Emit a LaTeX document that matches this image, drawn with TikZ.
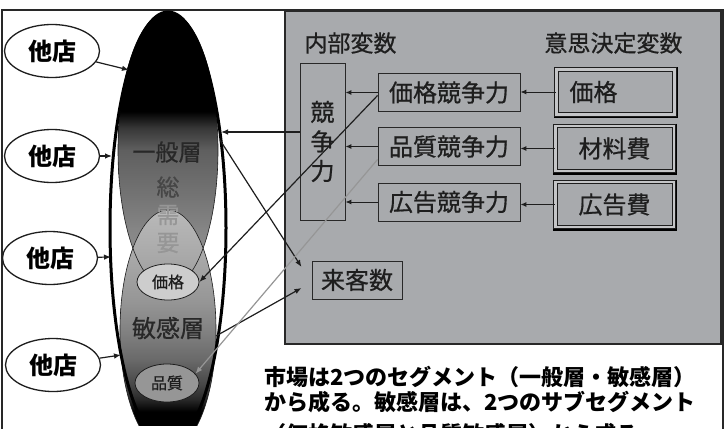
\documentclass[tikz,border=0pt]{standalone}
\usepackage{fontspec}
\setmainfont{Noto Sans CJK JP}
\newfontfamily\jpm{Noto Sans CJK JP}[FakeBold=0.7]
\usetikzlibrary{shapes.geometric,arrows.meta,calc}
\definecolor{bg}{RGB}{168,170,173}
\definecolor{gA}{RGB}{40,40,40}
\definecolor{gB}{RGB}{55,55,55}
\definecolor{gC}{RGB}{95,95,95}
\definecolor{gD}{RGB}{115,115,115}
\definecolor{gE}{RGB}{135,135,135}
\definecolor{gF}{RGB}{150,150,150}
\definecolor{gG}{RGB}{170,170,170}
\definecolor{gH}{RGB}{185,185,185}
\definecolor{gI}{RGB}{205,205,205}
\definecolor{gJ}{RGB}{130,130,130}
\definecolor{gK}{RGB}{105,105,105}
\definecolor{gL}{RGB}{70,70,70}
\definecolor{gM}{RGB}{30,30,30}
\definecolor{gap}{RGB}{196,197,199}
\newcommand\fsz[1]{\fontsize{#1}{#1}\selectfont}
\pgfdeclareverticalshading{upshade}{100bp}{color(0bp)=(gF); color(25bp)=(gF); color(35bp)=(gE); color(42bp)=(gD); color(50bp)=(gC); color(54bp)=(gB); color(57bp)=(black); color(100bp)=(black)}
\pgfdeclareverticalshading{lowshade}{100bp}{color(0bp)=(black); color(33bp)=(black); color(35.5bp)=(gA); color(38.5bp)=(gL); color(43.75bp)=(gK); color(50bp)=(gJ); color(56bp)=(gF); color(66bp)=(gG); color(75bp)=(gH); color(100bp)=(gH)}
\begin{document}
\begin{tikzpicture}[x=1pt,y=-1pt,
  arr/.style={-{Latex[length=7pt,width=5.5pt]}, line width=1.2pt, draw=gM},
  sarr/.style={-{Latex[length=6pt,width=5pt]}, line width=1pt, draw=gM},
  tten/.style={ellipse, draw=gM, line width=1.3pt, fill=white, minimum width=95pt, minimum height=53pt, inner sep=0pt, font=\bfseries\fsz{24}},
  cbox/.style={rectangle, draw=gA, line width=0.9pt, minimum width=142pt, minimum height=38pt, inner sep=0pt, font=\jpm\fsz{24}, text=gM},
  dec/.style={rectangle, draw=gM, double=gap, double distance=2.5pt, line width=1pt, fill=bg, minimum width=118.5pt, minimum height=45pt, inner sep=0pt, font=\jpm\fsz{24}, text=gM},
  lbl/.style={inner sep=0pt, font=\jpm\fsz{23}, text=gM},
  etxt/.style={inner sep=0pt, font=\jpm\fsz{23}},
  btxt/.style={inner sep=0pt, anchor=west, font=\bfseries\fsz{22}, text=black}
]
\useasboundingbox (0,0) rectangle (727,428);
\fill[white] (0,0) rectangle (727,428);
% right panel
\draw[line width=1.2pt, draw=gA, fill=bg] (285,11) rectangle (721,344);
% outer frame
\draw[line width=1.2pt, draw=gA] (2,440) -- (2,10) -- (723,10) -- (723,440);

% market ellipses
\begin{scope}
\clip (0,0) rectangle (727,425);
\node[ellipse, fill=white, minimum width=116pt, minimum height=432pt, inner sep=0pt] (tot) at (168,228) {};
\node[ellipse, shading=upshade, minimum width=100pt, minimum height=276pt, inner sep=0pt] (gen) at (168,150) {};
\node[ellipse, shading=lowshade, minimum width=96pt, minimum height=240pt, inner sep=0pt] (sen) at (168,330) {};
\draw[line width=0.6pt, draw=gM] (gen.center) ellipse [x radius=50pt, y radius=138pt];
\draw[line width=0.6pt, draw=gM] (sen.center) ellipse [x radius=48pt, y radius=120pt];
\node[etxt, text=gA] (tgen) at (167,152) {一般層};
\node[etxt, text=gL] (tso) at (168,187) {総};
\node[etxt, text=gF] (tju) at (168,215) {需};
\node[etxt, text=gF] (tyo) at (168,243) {要};
\node[etxt, font=\jpm\fsz{24}, text=gA] (tsen) at (168,328) {敏感層};
\draw[line width=3pt, draw=black] (tot.center) ellipse [x radius=58pt, y radius=216pt];
\end{scope}

\node[ellipse, draw=gM, line width=0.8pt, fill=gI, minimum width=62pt, minimum height=36pt, inner sep=0pt, font=\jpm\fsz{16}, text=gM] (pe) at (168,282) {価格};
\node[ellipse, draw=gM, line width=0.8pt, fill=gF, minimum width=64pt, minimum height=38pt, inner sep=0pt, font=\jpm\fsz{16}, text=gM] (qe) at (167,383) {品質};

% other stores
\node[tten] (tt1) at (52,51) {他店};
\node[tten] (tt2) at (52,156) {他店};
\node[tten] (tt3) at (50,258) {他店};
\node[tten] (tt4) at (53,365) {他店};

% right panel content
\node[lbl] (lin) at (350.5,43) {内部変数};
\node[lbl] (ldec) at (613.5,43) {意思決定変数};
\node[rectangle, draw=gA, line width=0.9pt, minimum width=45pt, minimum height=157pt, inner sep=0pt, align=center, font=\jpm\fontsize{24}{29.5}\selectfont, text=gM] (kyo) at (322.5,141.5) {競\\争\\力};
\node[cbox] (pc) at (449,92.5) {価格競争力};
\node[cbox] (qc) at (449,146.5) {品質競争力};
\node[cbox] (ac) at (449,202) {広告競争力};
\node[dec, text width=92pt, inner xsep=13pt, minimum width=0pt, align=left] (dp) at (615.5,92) {価格};
\node[dec] (dm) at (614.5,148.5) {材料費};
\node[dec] (da) at (614.5,204.5) {広告費};
\foreach \n in {dp,dm,da}{
  \draw[line width=1.4pt, draw=black] ([xshift=2.4pt,yshift=2pt]\n.north east) -- ([xshift=2.4pt,yshift=-2.4pt]\n.south east) -- ([xshift=-2pt,yshift=-2.4pt]\n.south west);
}
\node[rectangle, draw=gA, line width=1pt, minimum width=90pt, minimum height=38pt, inner sep=0pt, font=\jpm\fsz{24}, text=gM] (rk) at (357,280) {来客数};

% bottom text
\begin{scope}
\clip (0,0) rectangle (727,427);
\node[btxt] (b1) at (264,377) {市場は2つのセグメント（一般層・敏感層）};
\node[btxt] (b2) at (264,402) {から成る。敏感層は、2つのサブセグメント};
\node[btxt] (b3) at (264,434) {（価格敏感層と品質敏感層）から成る};
\end{scope}

% coordinates
\coordinate (e1) at (129,70);
\coordinate (e2) at (112,156);
\coordinate (e3) at (111,257);
\coordinate (e4) at (121,355);
\coordinate (e5) at (221,132);
\coordinate (s1) at (220,140);
\coordinate (s2) at (216,336);
\coordinate (t1) at ([xshift=-10pt,yshift=13pt]rk.west);
\coordinate (t2) at ([xshift=-10pt,yshift=-8pt]rk.west);

% connectors
\draw[arr] (tt1) -- (e1);
\draw[arr] (tt2) -- (e2);
\draw[arr] (tt3) -- (e3);
\draw[arr] (tt4) -- (e4);
\draw[arr] ([yshift=9.5pt]kyo.west) -- (e5);
\draw[arr] (s1) -- (t1);
\draw[arr] (s2) -- (t2);
\draw[arr] ([yshift=-3pt]pc.west) -- (pe.east);
\draw[arr, draw=gF] ([yshift=-13pt]qc.west) -- (qe.18);
\draw[sarr] (dp.west) -- (dp.west -| pc.east);
\draw[sarr] (dm.west) -- (dm.west -| qc.east);
\draw[sarr] (da.west) -- (da.west -| ac.east);
\draw[sarr] (pc.west) -- (pc.west -| kyo.east);
\draw[sarr] (qc.west) -- (qc.west -| kyo.east);
\draw[sarr] (ac.west) -- (ac.west -| kyo.east);
\end{tikzpicture}
\end{document}
